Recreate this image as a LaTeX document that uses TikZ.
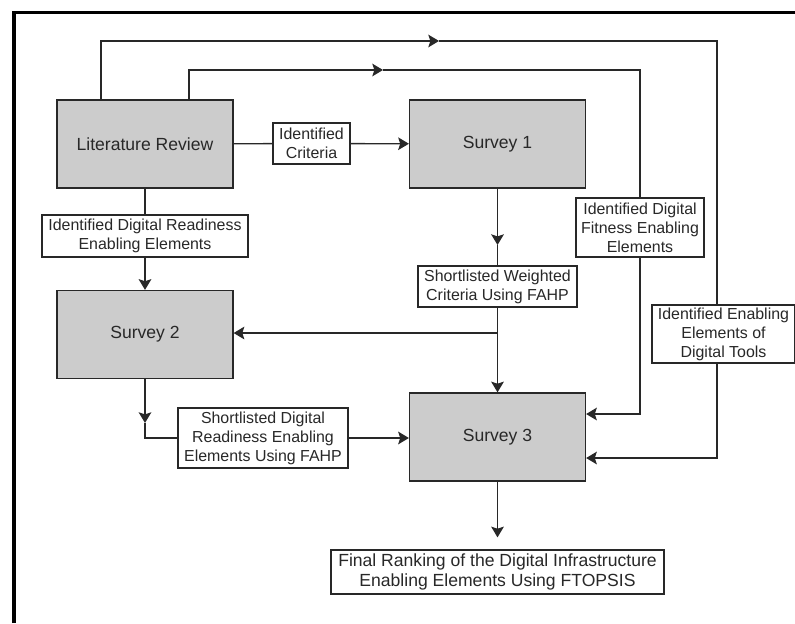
\documentclass[tikz,border=0pt]{standalone}
\usepackage{fontspec}
\setmainfont{Liberation Sans}
\usepackage{tikz}
\usetikzlibrary{positioning, arrows.meta}
\definecolor{boxGray}{RGB}{204,204,204}
\definecolor{inkGray}{RGB}{40,40,40}

\begin{document}
\begin{tikzpicture}[
    x=0.03cm, y=-0.03cm,
    stage/.style={rectangle, draw=inkGray, line width=1.1pt, fill=boxGray, minimum width=5.28cm, minimum height=2.64cm, text=inkGray, font=\fontsize{15}{18}\selectfont},
    note/.style={rectangle, draw=inkGray, line width=1.1pt, fill=white, align=center, inner sep=1pt, text=inkGray, font=\fontsize{13.6}{16.2}\selectfont},
    link/.style={draw=inkGray, line width=1.1pt},
    arrow/.style={link, -{Stealth[length=0.32cm, width=0.38cm, inset=0.06cm]}},
    frame/.style={draw=black, line width=3.4pt}
]
\useasboundingbox (0,0) rectangle (795,623);
\draw[frame] (14,623) |- (795,12.5);

% Nodes
\node[stage] (lit) at (145,144) {Literature Review};
\node[stage] (sv1) at (497.5,144) {Survey 1};
\node[stage] (sv2) at (145,334.5) {Survey 2};
\node[stage] (sv3) at (497.5,437) {Survey 3};

% Labels on the connectors
\node[note, minimum width=2.31cm, minimum height=1.23cm] (crit) at (311.5,143.5) {Identified\\Criteria};
\node[note, minimum width=6.18cm, minimum height=1.26cm] (readyEl) at (145,236) {Identified Digital Readiness\\Enabling Elements};
\node[note, minimum width=3.84cm, minimum height=1.77cm] (fitEl) at (640,227.5) {Identified Digital\\Fitness Enabling\\Elements};
\node[note, minimum width=4.77cm, minimum height=1.23cm] (wCrit) at (497.5,286.5) {Shortlisted Weighted\\Criteria Using FAHP};
\node[note, minimum width=4.29cm, minimum height=1.74cm] (toolEl) at (723.5,334) {Identified Enabling\\Elements of\\Digital Tools};
\node[note, minimum width=5.1cm, minimum height=1.8cm] (readyFahp) at (263,438) {Shortlisted Digital\\Readiness Enabling\\Elements Using FAHP};
\node[note, minimum width=9.99cm, minimum height=1.32cm, font=\fontsize{15}{17.5}\selectfont] (rank) at (497.5,572) {Final Ranking of the Digital Infrastructure\\Enabling Elements Using FTOPSIS};

% Bend points
\coordinate (tipA) at (439,41);
\coordinate (tipB) at (383,70);
\coordinate (tipC) at (497.5,245);
\coordinate (tipD) at (145,423);

% Arrows
\draw[link] (lit) -- (crit);
\draw[arrow] (crit) -- (sv1);
\draw[link] (lit) -- (readyEl);
\draw[arrow] (readyEl) -- (sv2);

\draw[arrow] (sv1) -- (tipC);
\draw[link] (tipC) -- (wCrit);
\draw[arrow] (wCrit) -- (sv3);
\draw[arrow] (wCrit.south |- 0,333) -- (sv2.east |- 0,333);

\draw[arrow] (sv2) -- (tipD);
\draw[link] (tipD) |- (readyFahp);
\draw[arrow] (readyFahp.east) -- (sv3.west |- readyFahp.east);

\draw[arrow, shorten >=0.36cm] (sv3) -- (rank);

% Outer loop
\draw[arrow] (lit.north -| 101,0) |- (tipA);
\draw[link] (tipA) -| (toolEl.north -| 717,0);
\draw[arrow] (toolEl.south -| 717,0) |- (sv3.east |- 0,458);

% Inner loop
\draw[arrow] (lit.north -| 189,0) |- (tipB);
\draw[link] (tipB) -| (fitEl);
\draw[arrow] (fitEl) |- (sv3.east |- 0,414);
\end{tikzpicture}
\end{document}
